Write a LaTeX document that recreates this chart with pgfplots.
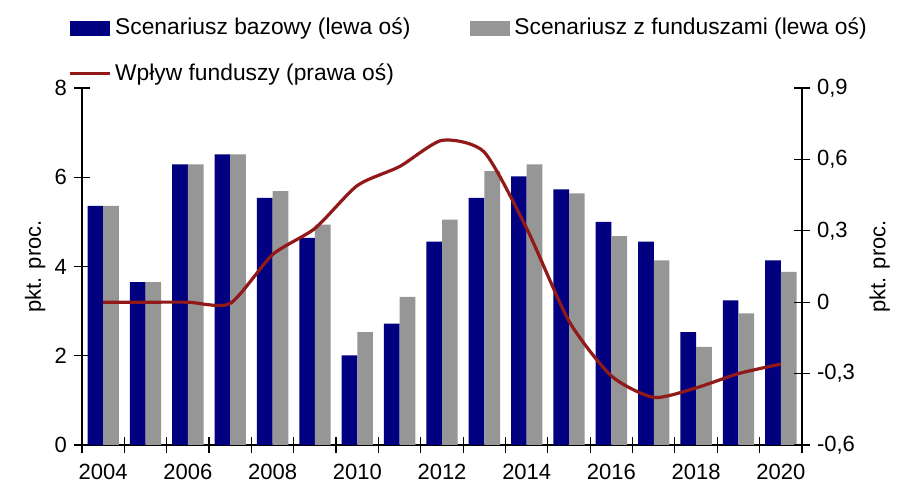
\documentclass[border=0pt]{standalone}
\usepackage{pgfplots}
\pgfplotsset{compat=1.18}
\usepackage{fontspec}
\setmainfont{Liberation Sans}

\definecolor{bazblue}{RGB}{0,0,128}
\definecolor{fundgray}{RGB}{150,150,150}
\definecolor{fundred}{RGB}{145,25,25}

\newcommand{\chartfont}{\fontsize{11}{13}\selectfont}
\newcommand{\legfont}{\fontsize{11.4}{13}\selectfont}

\begin{document}
\begin{tikzpicture}
\pgfplotsset{
    common/.style={
        scale only axis,
        width=360pt, height=178.5pt,
        xmin=2003.5, xmax=2020.5,
        /pgf/number format/assume math mode=true,
        ticklabel style={font=\chartfont},
        label style={font=\chartfont},
        tick align=center,
        major tick length=8pt,
        tick style={black, line width=0.6pt},
        axis line style={line width=0.6pt},
    }
}
% left axis: bars
\begin{axis}[
    common,
    axis y line*=left,
    axis x line*=bottom,
    ymin=0, ymax=8,
    ytick={0,2,4,6,8},
    xtick={2003.5,2004.5,...,2020.5},
    xticklabels={},
    extra x ticks={2004,2006,...,2020},
    extra x tick labels={2004,2006,2008,2010,2012,2014,2016,2018,2020},
    extra x tick style={major tick length=0pt, ticklabel style={yshift=-6pt}},
    ylabel={pkt. proc.},
    ylabel style={at={(axis description cs:-0.065,0.5)}, anchor=center},
    legend columns=2,
    legend cell align=left,
    legend style={draw=none, fill=none, font=\legfont,
        at={(rel axis cs:-0.02,1.208)}, anchor=north west,
        /tikz/every even column/.append style={column sep=28pt},
        row sep=9pt, inner sep=0pt},
]
\addplot[ybar, bar width=0.37, bar shift=-0.185, fill=bazblue, draw=none,
    legend image code/.code={\fill[bazblue] (0pt,-3.75pt) rectangle (20pt,3.75pt);}]
coordinates {
(2004,5.36) (2005,3.65) (2006,6.29) (2007,6.51) (2008,5.54) (2009,4.64)
(2010,2.01) (2011,2.72) (2012,4.56) (2013,5.54) (2014,6.02) (2015,5.73)
(2016,5.00) (2017,4.56) (2018,2.53) (2019,3.24) (2020,4.14)};
\addlegendentry{Scenariusz bazowy (lewa oś)}

\addplot[ybar, bar width=0.37, bar shift=0.185, fill=fundgray, draw=none,
    legend image code/.code={\fill[fundgray] (0pt,-3.75pt) rectangle (20pt,3.75pt);}]
coordinates {
(2004,5.36) (2005,3.65) (2006,6.29) (2007,6.51) (2008,5.69) (2009,4.94)
(2010,2.53) (2011,3.32) (2012,5.05) (2013,6.14) (2014,6.29) (2015,5.64)
(2016,4.68) (2017,4.14) (2018,2.20) (2019,2.95) (2020,3.88)};
\addlegendentry{Scenariusz z funduszami (lewa oś)}

\addlegendimage{fundred, line width=1.6pt,
    legend image code/.code={\draw[fundred, line width=1.6pt] (0pt,0pt) -- (20pt,0pt);}}
\addlegendentry{Wpływ funduszy (prawa oś)}
\end{axis}

% right axis: line
\begin{axis}[
    common,
    axis x line=none,
    axis y line*=right,
    ymin=-0.6, ymax=0.9,
    ytick={-0.6,-0.3,0,0.3,0.6,0.9},
    yticklabel style={/pgf/number format/.cd, fixed, precision=1, use comma},
    ylabel={pkt. proc.},
    ylabel style={at={(axis description cs:1.108,0.5)}, anchor=center, rotate=0},
]
\addplot[fundred, line width=1.6pt, smooth, tension=0.4] coordinates {
(2004,0.00) (2005,0.00) (2006,0.00) (2007,-0.005) (2008,0.20) (2009,0.31)
(2010,0.49) (2011,0.57) (2012,0.68) (2013,0.63) (2014,0.31) (2015,-0.08)
(2016,-0.31) (2017,-0.40) (2018,-0.36) (2019,-0.30) (2020,-0.26)};
\end{axis}

\pgfresetboundingbox
\path (-41pt,-28pt) rectangle (409pt,222.5pt);
\end{tikzpicture}
\end{document}
